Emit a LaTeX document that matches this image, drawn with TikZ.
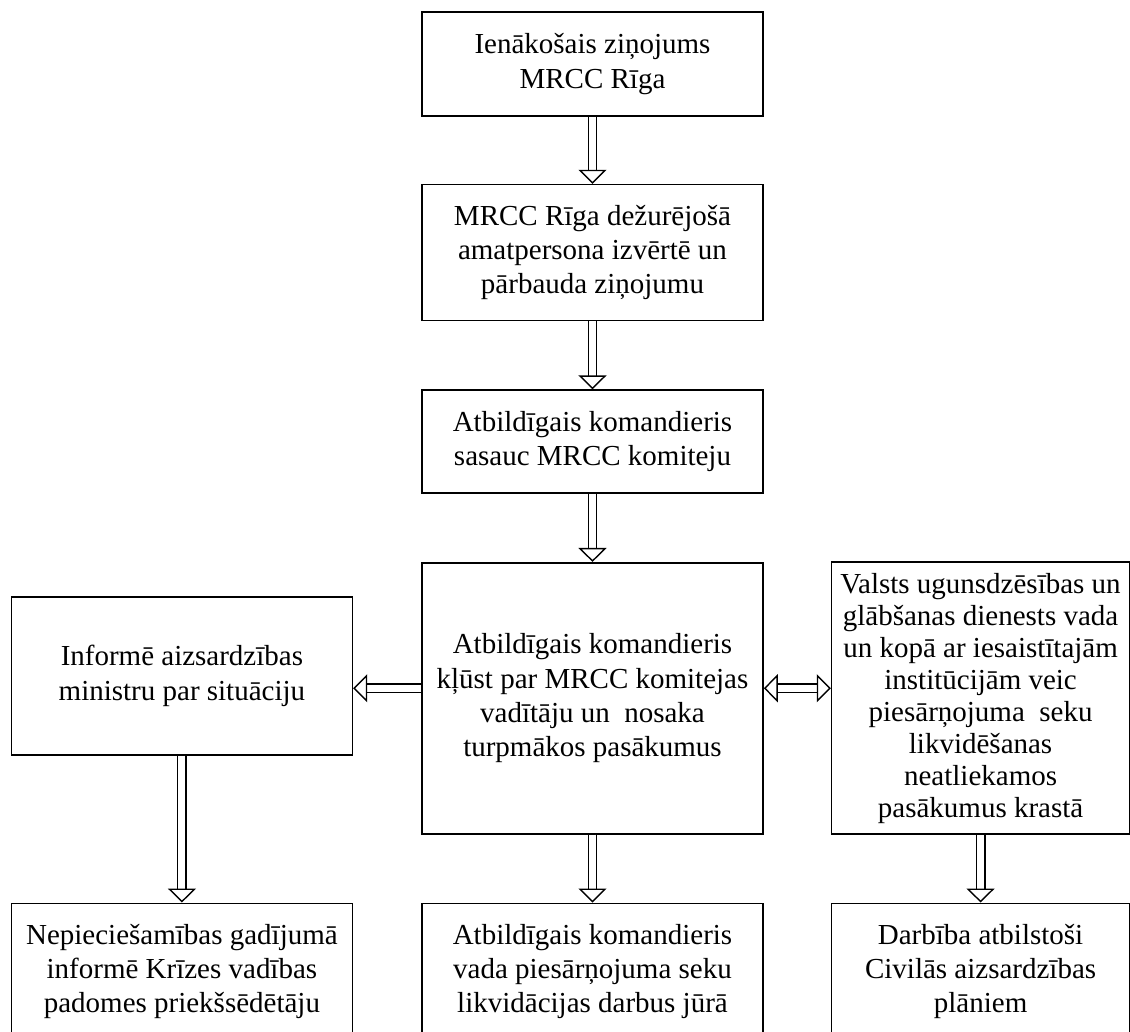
\documentclass[tikz,border=0pt]{standalone}
\usepackage{fontspec}
\setmainfont{Liberation Serif}
\usetikzlibrary{positioning,arrows.meta}

\begin{document}
\begin{tikzpicture}[node distance=1.36cm,
    box/.style={rectangle,draw,line width=0.9pt,align=center,inner sep=2pt,
      minimum width=6.82cm,font=\fontsize{16.5}{19.5}\selectfont},
    hollow/.style={draw,line width=0.8pt,double,double distance=0.14cm,
      -{Triangle[open,length=0.28cm,width=0.56cm]}},
    hollowboth/.style={hollow,{Triangle[open,length=0.28cm,width=0.56cm]}-{Triangle[open,length=0.28cm,width=0.56cm]}}]
    \useasboundingbox (0,0) rectangle (22.6,-20.64);
    \node[box,minimum height=2.08cm] (in) at (11.85,-1.28) {Ienākošais ziņojums\\MRCC Rīga};
    \node[box,minimum height=2.72cm] (check) [below=1.34cm of in] {MRCC Rīga dežurējošā\\amatpersona izvērtē un\\pārbauda ziņojumu};
    \node[box,minimum height=2.06cm] (call) [below=1.36cm of check] {Atbildīgais komandieris\\sasauc MRCC komiteju};
    \node[box,minimum height=5.42cm] (lead) [below=1.36cm of call] {Atbildīgais komandieris\\kļūst par MRCC komitejas\\vadītāju un \ nosaka\\turpmākos pasākumus};
    \node[box,minimum height=3.16cm] (minister) [left=1.36cm of lead,yshift=0.45cm] {Informē aizsardzības\\ministru par situāciju};
    \node[box,minimum height=5.44cm,minimum width=5.96cm,inner sep=0pt,
      font=\fontsize{16.5}{18.2}\selectfont] (rescue) [right=1.34cm of lead] {Valsts ugunsdzēsības un\\glābšanas dienests vada\\un kopā ar iesaistītajām\\institūcijām veic\\piesārņojuma \ seku\\likvidēšanas\\neatliekamos\\pasākumus krastā};
    \node[box,minimum height=2.72cm] (sea) [below=1.36cm of lead] {Atbildīgais komandieris\\vada piesārņojuma seku\\likvidācijas darbus jūrā};
    \node[box,minimum height=2.72cm] (council) [left=1.36cm of sea] {Nepieciešamības gadījumā\\informē Krīzes vadības\\padomes priekšsēdētāju};
    \node[box,minimum height=2.72cm,minimum width=5.96cm] (plans) [right=1.34cm of sea] {Darbība atbilstoši\\Civilās aizsardzības\\plāniem};
    \path (in) edge[hollow] (check)
    (check) edge[hollow] (call)
    (call) edge[hollow] (lead)
    (lead) edge[hollow] (sea)
    (minister) edge[hollow] (council)
    (rescue) edge[hollow] (plans);
    \draw[hollow] ([yshift=0.2cm]lead.west) -- ([yshift=0.2cm]lead.west -| minister.east);
    \draw[hollowboth] ([yshift=0.2cm]lead.east) -- ([yshift=0.2cm]lead.east -| rescue.west);
\end{tikzpicture}
\end{document}
